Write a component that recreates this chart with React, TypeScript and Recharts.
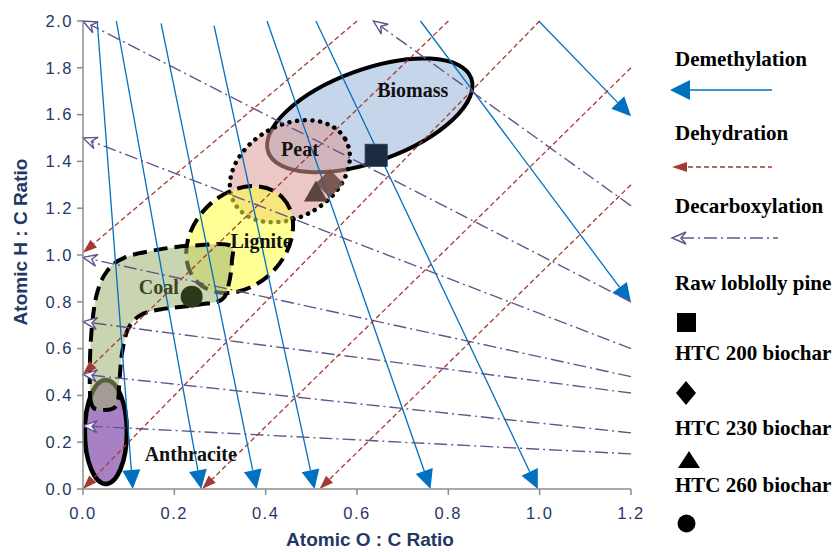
import React from "react";
import {
  ComposedChart,
  XAxis,
  YAxis,
  ReferenceArea,
  ReferenceLine,
  Scatter,
  Customized,
} from "recharts";

type Pt = [number, number];

// reaction pathways, [start, arrow end] in (O:C, H:C)
const demethylation: Pt[][] = [
  [[0.031, 2.0], [0.109, 0]],
  [[0.073, 2.0], [0.259, 0]],
  [[0.171, 1.99], [0.38, 0]],
  [[0.287, 1.98], [0.507, 0]],
  [[0.403, 2.0], [0.761, 0]],
  [[0.51, 2.0], [0.996, 0]],
  [[0.739, 2.0], [1.2, 0.797]],
  [[0.998, 2.0], [1.2, 1.593]],
];

const dehydration: Pt[][] = [
  [[0.6, 2.0], [0, 1.01]],
  [[0.8, 2.0], [0, 0.49]],
  [[1.0, 2.0], [0, 0]],
  [[1.2, 1.8], [0.261, 0]],
  [[1.2, 1.3], [0.518, 0]],
];

const decarboxylation: Pt[][] = [
  [[1.2, 1.21], [0.636, 2.0]],
  [[1.2, 0.8], [0, 2.0]],
  [[1.2, 0.6], [0, 1.5]],
  [[1.2, 0.48], [0, 0.99]],
  [[1.2, 0.41], [0, 0.715]],
  [[1.2, 0.24], [0, 0.49]],
  [[1.2, 0.15], [0, 0.27]],
];

const sampleNames = ["Raw loblolly pine", "HTC 200 biochar", "HTC 230 biochar", "HTC 260 biochar"];
const sampleOC = [0.642, 0.54, 0.51, 0.238];
const sampleHC = [1.426, 1.306, 1.263, 0.822];

const regionNames = ["Biomass", "Peat", "Lignite", "Coal", "Anthracite"];
const regionLabelOC = [0.722, 0.475, 0.39, 0.166, 0.236];
const regionLabelHC = [1.675, 1.422, 1.032, 0.835, 0.12];

// region centres (O:C, H:C)
const biomassCenter: Pt = [0.628, 1.597];
const peatCenter: Pt = [0.453, 1.358];
const ligniteCenter: Pt = [0.343, 1.066];
const anthraciteCenter: Pt = [0.05, 0.244];
const coalOutline: Pt[] = [
  [0.019, 0.36], [0.015, 0.51], [0.019, 0.681], [0.03, 0.831], [0.052, 0.929],
  [0.091, 0.989], [0.168, 1.024], [0.245, 1.041], [0.321, 1.041], [0.326, 0.972],
  [0.319, 0.874], [0.304, 0.809], [0.255, 0.788], [0.168, 0.767], [0.124, 0.741],
  [0.098, 0.681], [0.085, 0.574], [0.08, 0.467], [0.074, 0.36], [0.048, 0.338],
];

const xTicks = [0, 0.2, 0.4, 0.6, 0.8, 1.0, 1.2];
const yTicks = [0, 0.2, 0.4, 0.6, 0.8, 1.0, 1.2, 1.4, 1.6, 1.8, 2.0];

const X_MAX = 1.2;
const Y_MAX = 2.0;

const BLUE = "#0070c0";
const RED = "#a33a36";
const PURPLE = "#65548c";
const NAVY = "#1f3864";
const SERIF = "'Liberation Serif', 'Times New Roman', serif";
const SANS = "'Liberation Sans', Arial, sans-serif";

function head(x1: number, y1: number, x2: number, y2: number, len: number, half: number) {
  const L = Math.hypot(x2 - x1, y2 - y1) || 1;
  const ux = (x2 - x1) / L;
  const uy = (y2 - y1) / L;
  const bx = x2 - ux * len;
  const by = y2 - uy * len;
  return {
    ux,
    uy,
    bx,
    by,
    c1: [bx - uy * half, by + ux * half],
    c2: [bx + uy * half, by - ux * half],
  };
}

const blueShape = (p: any) => {
  const { x1, y1, x2, y2 } = p;
  const h = head(x1, y1, x2, y2, 19, 9);
  return (
    <g>
      <line x1={x1} y1={y1} x2={h.bx} y2={h.by} stroke={BLUE} strokeWidth={1.3} />
      <polygon points={`${x2},${y2} ${h.c1} ${h.c2}`} fill={BLUE} />
    </g>
  );
};

const redShape = (p: any) => {
  const { x1, y1, x2, y2 } = p;
  const h = head(x1, y1, x2, y2, 14, 5);
  return (
    <g>
      <line x1={x1} y1={y1} x2={h.bx} y2={h.by} stroke={RED} strokeWidth={1.3} strokeDasharray="5 3" />
      <polygon points={`${x2},${y2} ${h.c1} ${h.c2}`} fill={RED} />
    </g>
  );
};

const purpleShape = (p: any) => {
  const { x1, y1, x2, y2 } = p;
  const h = head(x1, y1, x2, y2, 14, 6);
  const nx = x2 - h.ux * 9;
  const ny = y2 - h.uy * 9;
  return (
    <g>
      <line x1={x1} y1={y1} x2={nx} y2={ny} stroke={PURPLE} strokeWidth={1.4} strokeDasharray="13 4 2 4" />
      <path d={`M${h.c1} L${x2},${y2} L${h.c2} L${nx},${ny} Z`} fill="#fff" stroke={PURPLE} strokeWidth={1.4} />
    </g>
  );
};

function smoothClosed(pts: Pt[]) {
  const n = pts.length;
  let d = `M${pts[0][0]},${pts[0][1]}`;
  for (let i = 0; i < n; i++) {
    const p0 = pts[(i - 1 + n) % n];
    const p1 = pts[i];
    const p2 = pts[(i + 1) % n];
    const p3 = pts[(i + 2) % n];
    const c1 = [p1[0] + (p2[0] - p0[0]) / 6, p1[1] + (p2[1] - p0[1]) / 6];
    const c2 = [p2[0] - (p3[0] - p1[0]) / 6, p2[1] - (p3[1] - p1[1]) / 6];
    d += ` C${c1} ${c2} ${p2[0]},${p2[1]}`;
  }
  return d + "Z";
}

// whole-domain reference area; regions are mapped through its rect
const RegionsShape = (props: any) => {
  const { x, y, width, height } = props;
  const px = (v: number) => x + (v / X_MAX) * width;
  const py = (v: number) => y + height - (v / Y_MAX) * height;
  const ell = (c: Pt, rx: number, ry: number, rot: number, rest: any) => {
    const cx = px(c[0]);
    const cy = py(c[1]);
    return <ellipse cx={cx} cy={cy} rx={rx} ry={ry} transform={`rotate(${rot} ${cx} ${cy})`} {...rest} />;
  };
  const coal = smoothClosed(coalOutline.map(([a, b]) => [px(a), py(b)] as Pt));
  return (
    <g>
      {ell(biomassCenter, 108, 46, -20, { fill: "#c5d5ea", stroke: "#000", strokeWidth: 4 })}
      {ell(peatCenter, 64, 46, -30, { fill: "#db9b96", fillOpacity: 0.55, stroke: "#000", strokeWidth: 4.5, strokeDasharray: "0.1 7.6", strokeLinecap: "round" })}
      {ell(ligniteCenter, 60, 46, -45, { fill: "#ffff40", fillOpacity: 0.55, stroke: "#000", strokeWidth: 4, strokeDasharray: "15 7" })}
      {ell(anthraciteCenter, 21, 52, 0, { fill: "#a880c4", stroke: "#000", strokeWidth: 4.5 })}
      <path d={coal} fill="#9db36f" fillOpacity={0.55} stroke="#000" strokeWidth={4} strokeDasharray="14 7" />
    </g>
  );
};

const squareShape = (p: any) => <rect x={p.cx - 11} y={p.cy - 11} width={22} height={22} fill="#1c2a40" stroke="#2c3a55" strokeWidth={1} />;
const diamondShape = (p: any) => (
  <polygon points={`${p.cx},${p.cy - 14} ${p.cx + 14},${p.cy} ${p.cx},${p.cy + 14} ${p.cx - 14},${p.cy}`} fill="#6d4d47" fillOpacity={0.9} />
);
const triangleShape = (p: any) => (
  <polygon points={`${p.cx},${p.cy - 13} ${p.cx + 12},${p.cy + 8} ${p.cx - 12},${p.cy + 8}`} fill="#5c4440" />
);
const circleShape = (p: any) => <circle cx={p.cx} cy={p.cy} r={11} fill="#2c3a1a" />;
const sampleShapes = [squareShape, diamondShape, triangleShape, circleShape];

const labelShape = (p: any) => (
  <text
    x={p.cx}
    y={p.cy}
    textAnchor="middle"
    fontFamily={SERIF}
    fontWeight="bold"
    fontSize={20}
    fill={p.payload.name === "Coal" ? "#3d4526" : "#111"}
  >
    {p.payload.name}
  </text>
);

const LegendBlock = () => {
  const tx = 675;
  const textProps = { fontFamily: SERIF, fontWeight: "bold", fontSize: 21, fill: "#000" };
  const rh = head(772, 167, 672, 167, 15, 5);
  const ph = head(778, 238, 672, 238, 14, 6);
  return (
    <g>
      <text x={tx} y={66} {...textProps}>Demethylation</text>
      <line x1={690} y1={90} x2={772} y2={90} stroke={BLUE} strokeWidth={1.5} />
      <polygon points="670,90 690,80 690,100" fill={BLUE} />
      <text x={tx} y={140} {...textProps}>Dehydration</text>
      <line x1={688} y1={167} x2={772} y2={167} stroke={RED} strokeWidth={1.5} strokeDasharray="5 3" />
      <polygon points={`672,167 ${rh.c1} ${rh.c2}`} fill={RED} />
      <text x={tx} y={213} {...textProps}>Decarboxylation</text>
      <line x1={681} y1={238} x2={778} y2={238} stroke={PURPLE} strokeWidth={1.5} strokeDasharray="13 4 2 4" />
      <path d={`M${ph.c1} L672,238 L${ph.c2} L681,238 Z`} fill="#fff" stroke={PURPLE} strokeWidth={1.4} />
      <text x={tx} y={290} {...textProps}>{sampleNames[0]}</text>
      <rect x={677} y={313} width={19} height={19} fill="#000" />
      <text x={tx} y={360} {...textProps}>{sampleNames[1]}</text>
      <polygon points="686,381 696,393 686,405 676,393" fill="#000" />
      <text x={tx} y={435} {...textProps}>{sampleNames[2]}</text>
      <polygon points="689,451 700,468 678,468" fill="#000" />
      <text x={tx} y={492} {...textProps}>{sampleNames[3]}</text>
      <circle cx={686.5} cy={523.5} r={9} fill="#000" />
      <text x={370} y={546} textAnchor="middle" fontFamily={SANS} fontWeight="bold" fontSize={19} fill={NAVY}>
        Atomic O : C Ratio
      </text>
      <text
        x={27}
        y={242}
        textAnchor="middle"
        transform="rotate(-90 27 242)"
        fontFamily={SANS}
        fontWeight="bold"
        fontSize={19}
        fill={NAVY}
      >
        Atomic H : C Ratio
      </text>
    </g>
  );
};

export default function App() {
  const tick = { fill: NAVY, fontSize: 16.5, fontFamily: SANS, letterSpacing: 1.5 };
  const labels = regionNames.map((name, i) => ({ name, x: regionLabelOC[i], y: regionLabelHC[i] }));
  return (
    <div style={{ position: "absolute", left: 0, top: 0, width: 838, height: 552, background: "#fff" }}>
      <ComposedChart width={838} height={552} margin={{ top: 21, right: 207, bottom: 33, left: 23 }}>
        <XAxis
          type="number"
          dataKey="x"
          domain={[0, X_MAX]}
          ticks={xTicks}
          tickFormatter={(v: number) => v.toFixed(1)}
          height={30}
          tickSize={6}
          tickMargin={12}
          tick={tick}
          stroke="#8c8c8c"
          axisLine={{ stroke: "#8c8c8c", strokeWidth: 1.5 }}
          tickLine={{ stroke: "#8c8c8c", strokeWidth: 1.5 }}
          allowDataOverflow
        />
        <YAxis
          type="number"
          dataKey="y"
          domain={[0, Y_MAX]}
          ticks={yTicks}
          tickFormatter={(v: number) => v.toFixed(1)}
          width={60}
          tickSize={6}
          tickMargin={4}
          tick={tick}
          stroke="#8c8c8c"
          axisLine={{ stroke: "#8c8c8c", strokeWidth: 1.5 }}
          tickLine={{ stroke: "#8c8c8c", strokeWidth: 1.5 }}
          allowDataOverflow
        />
        <ReferenceArea x1={0} x2={X_MAX} y1={0} y2={Y_MAX} shape={RegionsShape} ifOverflow="visible" />
        {demethylation.map((s, i) => (
          <ReferenceLine
            key={`dm${i}`}
            segment={[{ x: s[0][0], y: s[0][1] }, { x: s[1][0], y: s[1][1] }]}
            shape={blueShape}
            ifOverflow="visible"
          />
        ))}
        {dehydration.map((s, i) => (
          <ReferenceLine
            key={`dh${i}`}
            segment={[{ x: s[0][0], y: s[0][1] }, { x: s[1][0], y: s[1][1] }]}
            shape={redShape}
            ifOverflow="visible"
          />
        ))}
        {decarboxylation.map((s, i) => (
          <ReferenceLine
            key={`dc${i}`}
            segment={[{ x: s[0][0], y: s[0][1] }, { x: s[1][0], y: s[1][1] }]}
            shape={purpleShape}
            ifOverflow="visible"
          />
        ))}
        {sampleNames.map((name, i) => (
          <Scatter
            key={name}
            name={name}
            data={[{ x: sampleOC[i], y: sampleHC[i] }]}
            shape={sampleShapes[i]}
            isAnimationActive={false}
          />
        ))}
        <Scatter name="regions" data={labels} shape={labelShape} isAnimationActive={false} />
        <Customized component={<LegendBlock />} />
      </ComposedChart>
    </div>
  );
}
